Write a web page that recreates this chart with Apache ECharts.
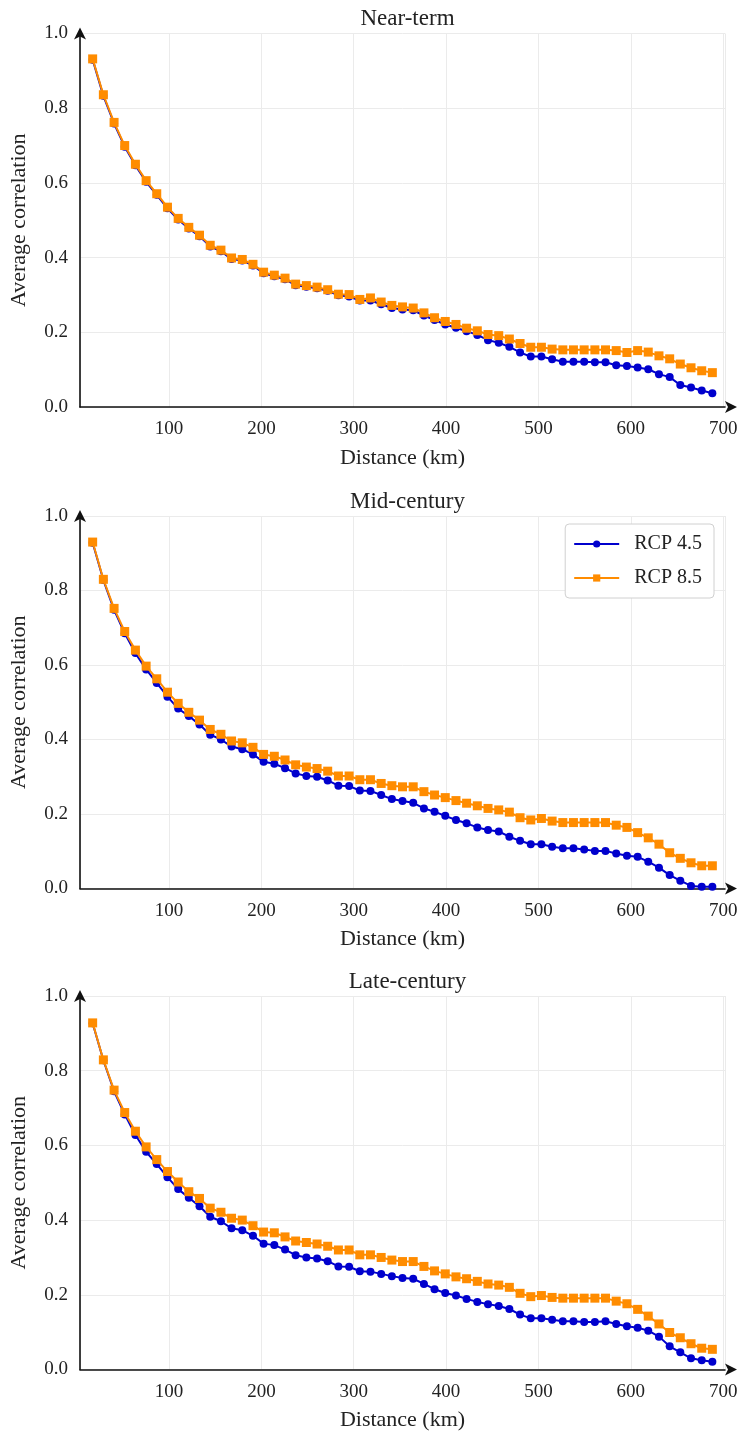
<!DOCTYPE html>
<html>
<head>
<meta charset="utf-8">
<script src="https://cdn.jsdelivr.net/npm/echarts@6/dist/echarts.min.js"></script>
<style>
html,body{margin:0;padding:0;background:#fff;}
#chart{width:741px;height:1437px;}
</style>
</head>
<body>
<div id="chart"></div>
<script>
const panelTitles = ['Near-term', 'Mid-century', 'Late-century'];
const seriesNames = ['RCP 4.5', 'RCP 8.5'];
const xAxisName = 'Distance (km)';
const yAxisName = 'Average correlation';

const distanceKm = [17.3,28.9,40.5,52.0,63.6,75.2,86.7,98.3,109.9,121.4,133.0,144.6,156.2,167.7,179.3,190.9,202.4,214.0,225.6,237.1,248.7,260.3,271.8,283.4,295.0,306.6,318.1,329.7,341.3,352.8,364.4,376.0,387.5,399.1,410.7,422.2,433.8,445.4,457.0,468.5,480.1,491.7,503.2,514.8,526.4,537.9,549.5,561.1,572.6,584.2,595.8,607.4,618.9,630.5,642.1,653.6,665.2,676.8,688.3];

const nearRcp45 = [0.930,0.833,0.759,0.697,0.647,0.603,0.568,0.532,0.502,0.478,0.457,0.430,0.417,0.396,0.392,0.379,0.358,0.350,0.342,0.326,0.322,0.318,0.311,0.299,0.296,0.285,0.285,0.275,0.265,0.261,0.259,0.245,0.233,0.221,0.212,0.203,0.193,0.179,0.172,0.161,0.146,0.135,0.135,0.128,0.121,0.121,0.121,0.120,0.120,0.112,0.110,0.106,0.101,0.088,0.080,0.059,0.052,0.044,0.037];
const nearRcp85 = [0.932,0.836,0.762,0.700,0.650,0.606,0.571,0.535,0.505,0.481,0.460,0.433,0.420,0.399,0.395,0.382,0.361,0.353,0.345,0.329,0.325,0.321,0.314,0.302,0.301,0.288,0.292,0.281,0.272,0.268,0.265,0.252,0.239,0.229,0.221,0.211,0.204,0.194,0.191,0.182,0.170,0.160,0.160,0.155,0.153,0.153,0.153,0.153,0.153,0.151,0.146,0.151,0.147,0.137,0.129,0.115,0.105,0.097,0.092];

const midRcp45 = [0.928,0.828,0.748,0.685,0.632,0.588,0.552,0.515,0.483,0.463,0.440,0.413,0.400,0.381,0.374,0.360,0.340,0.335,0.323,0.309,0.302,0.300,0.290,0.276,0.275,0.263,0.262,0.251,0.240,0.235,0.230,0.215,0.206,0.195,0.184,0.175,0.164,0.157,0.153,0.139,0.128,0.119,0.119,0.112,0.108,0.108,0.105,0.101,0.101,0.094,0.088,0.085,0.072,0.056,0.036,0.021,0.007,0.005,0.005];
const midRcp85 = [0.930,0.830,0.752,0.690,0.640,0.597,0.563,0.527,0.497,0.473,0.452,0.427,0.414,0.396,0.391,0.379,0.360,0.355,0.345,0.332,0.326,0.322,0.315,0.302,0.302,0.292,0.292,0.282,0.276,0.273,0.273,0.260,0.251,0.244,0.236,0.229,0.222,0.215,0.211,0.205,0.190,0.184,0.188,0.181,0.177,0.177,0.177,0.177,0.177,0.170,0.164,0.150,0.136,0.119,0.096,0.081,0.069,0.061,0.061];

const lateRcp45 = [0.927,0.828,0.745,0.683,0.628,0.583,0.550,0.515,0.483,0.460,0.437,0.409,0.397,0.378,0.373,0.358,0.337,0.333,0.321,0.306,0.300,0.297,0.290,0.276,0.275,0.263,0.262,0.256,0.250,0.245,0.243,0.229,0.215,0.205,0.198,0.189,0.181,0.175,0.170,0.162,0.147,0.137,0.137,0.133,0.129,0.129,0.127,0.127,0.129,0.122,0.116,0.112,0.104,0.088,0.062,0.046,0.030,0.025,0.021];
const lateRcp85 = [0.928,0.829,0.748,0.688,0.638,0.596,0.562,0.530,0.502,0.476,0.458,0.432,0.421,0.405,0.400,0.385,0.368,0.366,0.355,0.344,0.340,0.336,0.330,0.320,0.320,0.307,0.307,0.300,0.293,0.289,0.289,0.276,0.264,0.256,0.248,0.243,0.236,0.229,0.226,0.220,0.204,0.195,0.198,0.193,0.191,0.191,0.191,0.191,0.191,0.183,0.176,0.161,0.143,0.122,0.099,0.085,0.069,0.057,0.054];

const panelData = [[nearRcp45, nearRcp85], [midRcp45, midRcp85], [lateRcp45, lateRcp85]];

const FONT = "'Liberation Serif', 'Times New Roman', serif";
const TXT = '#222';
const BLUE = '#0000CD';
const ORANGE = '#FF8C00';
const GRID_TOPS = [33.5, 516, 996];
const GRID_H = [373.5, 372.5, 373.5];
const GRID_LEFT = 80, GRID_RIGHT = 16;

const grids = [], xAxes = [], yAxes = [], titles = [], series = [];
for (let i = 0; i < 3; i++) {
  grids.push({left: GRID_LEFT, right: GRID_RIGHT, top: GRID_TOPS[i], height: GRID_H[i]});
  titles.push({
    text: panelTitles[i], left: 402.5, textAlign: 'center', top: GRID_TOPS[i] - 31,
    textStyle: {fontFamily: FONT, fontSize: 23, fontWeight: 'normal', color: TXT}
  });
  xAxes.push({
    type: 'value', gridIndex: i, min: 3.6, max: 702, minInterval: 100, maxInterval: 100,
    name: xAxisName, nameLocation: 'middle', nameGap: 40,
    nameTextStyle: {fontFamily: FONT, fontSize: 22, color: TXT},
    axisLine: {show: true, onZero: false, lineStyle: {color: '#111', width: 1.6},
      symbol: ['none', 'arrow'], symbolSize: [9, 12], symbolOffset: [0, 12]},
    axisTick: {show: false},
    axisLabel: {fontFamily: FONT, fontSize: 19, color: TXT, margin: 13, showMinLabel: false, showMaxLabel: false},
    splitLine: {show: true, lineStyle: {color: '#ebebeb', width: 1}}
  });
  yAxes.push({
    type: 'value', gridIndex: i, min: 0, max: 1, interval: 0.2,
    name: yAxisName, nameLocation: 'middle', nameGap: 50,
    nameTextStyle: {fontFamily: FONT, fontSize: 22, color: TXT},
    axisLine: {show: true, onZero: false, lineStyle: {color: '#111', width: 1.6},
      symbol: ['none', 'arrow'], symbolSize: [9, 12], symbolOffset: [0, 6]},
    axisTick: {show: false},
    axisLabel: {fontFamily: FONT, fontSize: 19, color: TXT, margin: 12, formatter: v => v.toFixed(1)},
    splitLine: {show: true, lineStyle: {color: '#ebebeb', width: 1}}
  });
  const [s45, s85] = panelData[i];
  series.push({
    name: seriesNames[0], type: 'line', xAxisIndex: i, yAxisIndex: i,
    data: distanceKm.map((x, k) => [x, s45[k]]),
    symbol: 'circle', symbolSize: 8, showSymbol: true,
    lineStyle: {color: BLUE, width: 2}, itemStyle: {color: BLUE},
    animation: false, z: 2
  });
  series.push({
    name: seriesNames[1], type: 'line', xAxisIndex: i, yAxisIndex: i,
    data: distanceKm.map((x, k) => [x, s85[k]]),
    symbol: 'rect', symbolSize: 9, showSymbol: true,
    lineStyle: {color: ORANGE, width: 2}, itemStyle: {color: ORANGE},
    animation: false, z: 3
  });
}

const chart = echarts.init(document.getElementById('chart'), null, {renderer: 'canvas'});
chart.setOption({
  backgroundColor: '#fff',
  animation: false,
  title: titles,
  grid: grids,
  xAxis: xAxes,
  yAxis: yAxes,
  legend: {
    data: seriesNames, orient: 'vertical', right: 27, top: 524,
    itemWidth: 45, itemHeight: 9, itemGap: 14,
    padding: [10, 12, 10, 8],
    backgroundColor: '#fff', borderColor: '#d0d0d0', borderWidth: 1, borderRadius: 4,
    textStyle: {fontFamily: FONT, fontSize: 20, color: TXT, padding: [0, 0, 0, 10]}
  },
  series: series
});
</script>
</body>
</html>
